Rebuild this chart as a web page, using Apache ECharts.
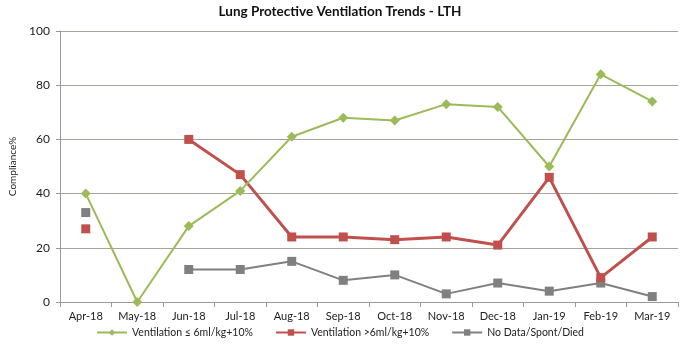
<!DOCTYPE html>
<html>
<head>
<meta charset="utf-8">
<script src="https://cdn.jsdelivr.net/npm/echarts@6/dist/echarts.min.js"></script>
<style>
  html, body { margin: 0; padding: 0; background: #fff; }
  #chart { width: 680px; height: 344px; }
</style>
</head>
<body>
<div id="chart"></div>
<script>
const months = ['Apr-18', 'May-18', 'Jun-18', 'Jul-18', 'Aug-18', 'Sep-18', 'Oct-18', 'Nov-18', 'Dec-18', 'Jan-19', 'Feb-19', 'Mar-19'];
const lowVent = [40, 0, 28, 41, 61, 68, 67, 73, 72, 50, 84, 74];
const highVent = [27, null, 60, 47, 24, 24, 23, 24, 21, 46, 9, 24];
const noData = [33, null, 12, 12, 15, 8, 10, 3, 7, 4, 7, 2];
const yTicks = [0, 20, 40, 60, 80, 100];

const chart = echarts.init(document.getElementById('chart'), null, { renderer: 'canvas' });
const font = 'Lato, "Open Sans", sans-serif';

chart.setOption({
    animation: false,
    backgroundColor: '#fff',
    title: {
        text: 'Lung Protective Ventilation Trends - LTH',
        left: 'center',
        top: 0,
        textStyle: { fontFamily: font, fontSize: 13.5, fontWeight: 'bold', color: '#111' }
    },
    legend: {
        bottom: 1,
        left: 'center',
        itemGap: 22,
        itemWidth: 30,
        itemHeight: 8,
        textStyle: { fontFamily: font, fontSize: 10.5, color: '#222' },
        data: ['Ventilation ≤ 6ml/kg+10%', 'Ventilation >6ml/kg+10%', 'No Data/Spont/Died']
    },
    grid: { left: 50, right: 2, top: 31, bottom: 42 },
    xAxis: {
        type: 'category',
        data: months,
        boundaryGap: true,
        axisLine: { lineStyle: { color: '#999' } },
        axisTick: { show: true, length: 5, lineStyle: { color: '#999' } },
        axisLabel: { fontFamily: font, fontSize: 11, color: '#222', margin: 9 }
    },
    yAxis: {
        type: 'value',
        min: yTicks[0],
        max: yTicks[yTicks.length - 1],
        interval: 20,
        name: 'Compliance%',
        nameLocation: 'middle',
        nameGap: 42,
        nameTextStyle: { fontFamily: font, fontSize: 10, color: '#222' },
        axisLine: { show: true, lineStyle: { color: '#999' } },
        axisTick: { show: true, length: 4, lineStyle: { color: '#999' } },
        axisLabel: { fontFamily: font, fontSize: 12, color: '#222', margin: 10 },
        splitLine: { lineStyle: { color: '#a8a29c', width: 1 } }
    },
    series: [
        {
            name: 'Ventilation ≤ 6ml/kg+10%',
            type: 'line',
            data: lowVent,
            symbol: 'diamond',
            symbolSize: 10,
            z: 3,
            itemStyle: { color: '#9bbb59' },
            lineStyle: { color: '#9bbb59', width: 2 }
        },
        {
            name: 'Ventilation >6ml/kg+10%',
            type: 'line',
            data: highVent,
            symbol: 'rect',
            symbolSize: 9,
            z: 2,
            itemStyle: { color: '#c0504d' },
            lineStyle: { color: '#c0504d', width: 3 }
        },
        {
            name: 'No Data/Spont/Died',
            type: 'line',
            data: noData,
            symbol: 'rect',
            symbolSize: 9,
            z: 1,
            itemStyle: { color: '#808080' },
            lineStyle: { color: '#808080', width: 2 }
        }
    ]
});
</script>
</body>
</html>
